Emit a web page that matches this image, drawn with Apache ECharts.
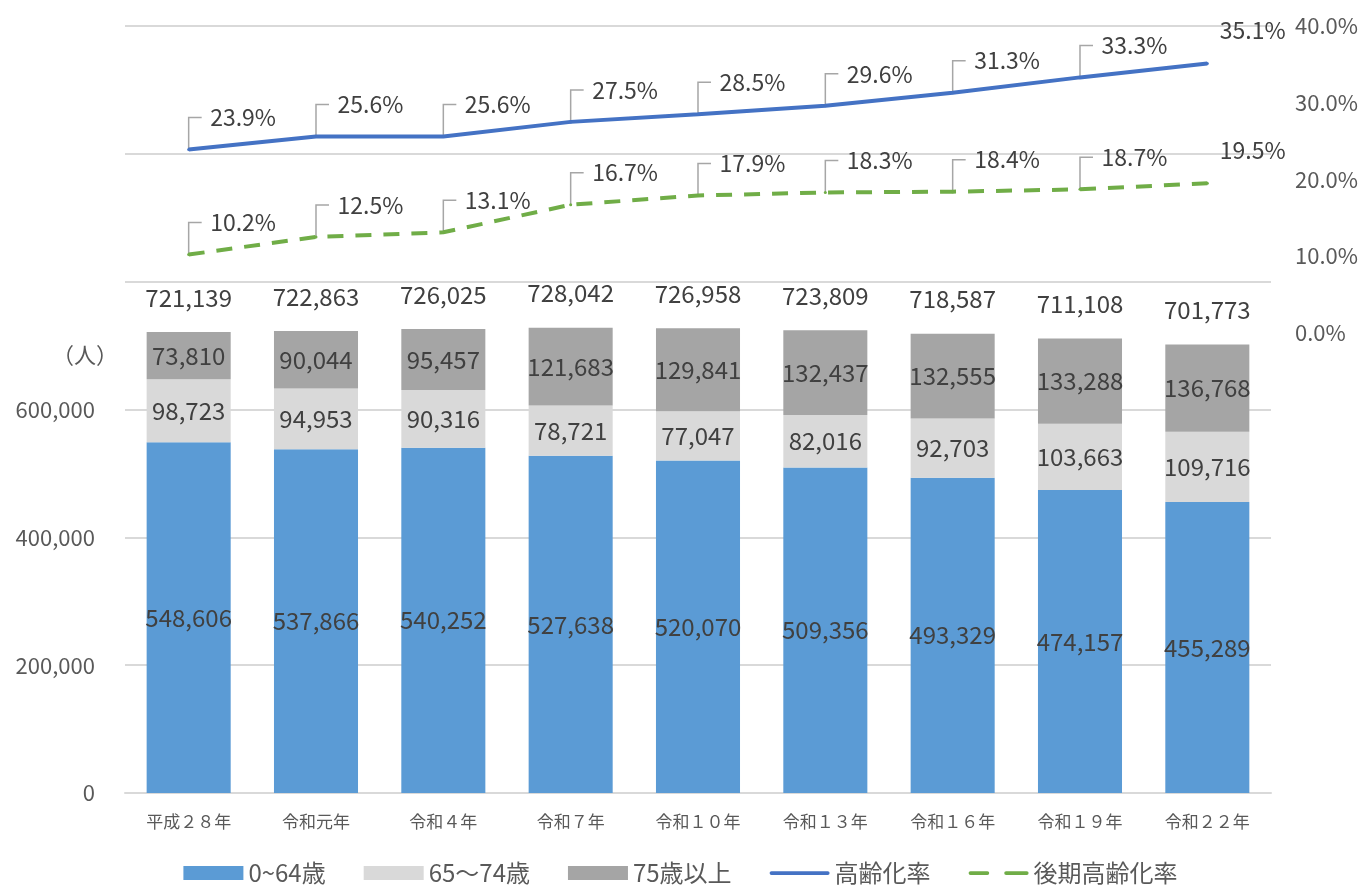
<!DOCTYPE html>
<html><head><meta charset="utf-8">
<script src="https://cdn.jsdelivr.net/npm/echarts@6/dist/echarts.min.js"></script>
<style>html,body{margin:0;padding:0;background:#fff}#c{width:1361px;height:885px}</style>
</head><body><div id="c"></div>
<script>
const categories = ['平成２８年','令和元年','令和４年','令和７年','令和１０年','令和１３年','令和１６年','令和１９年','令和２２年'];
const age0to64 = [548606,537866,540252,527638,520070,509356,493329,474157,455289];
const age65to74 = [98723,94953,90316,78721,77047,82016,92703,103663,109716];
const age75plus = [73810,90044,95457,121683,129841,132437,132555,133288,136768];
const agingRate = [23.9,25.6,25.6,27.5,28.5,29.6,31.3,33.3,35.1];
const lateAgingRate = [10.2,12.5,13.1,16.7,17.9,18.3,18.4,18.7,19.5];
const leftTicks = [0,200000,400000,600000];
const totals = categories.map((_, i) => age0to64[i] + age65to74[i] + age75plus[i]);

const FONT = '"Noto Sans CJK JP", "Noto Sans", sans-serif';
const fmtNum = v => v.toLocaleString('en-US');
const barLabel = {show:true, position:'inside', fontFamily:FONT, fontSize:24, color:'#404040', formatter:p=>fmtNum(p.value)};
const pctLabel = {show:true, position:'right', distance:2, fontFamily:FONT, fontSize:23, color:'#404040', formatter:p=>p.value.toFixed(1)+'%'};
const B = 'M0,0L0.01,0L0,0.01Z M0,14L0.01,14L0,13.99Z ';
const solidIcon = 'path://' + B + 'M2,5H62A2,2 0 0 1 62,9H2A2,2 0 0 1 2,5Z';
const dashIcon = 'path://' + B + 'M2,5H20A2,2 0 0 1 20,9H2A2,2 0 0 1 2,5Z M40,5H62A2,2 0 0 1 62,9H40A2,2 0 0 1 40,5Z';
const lastIdx = categories.length - 1;
const pctLayout = p => (p.dataIndex === lastIdx ? {dx:9, dy:-33} : {dx:18, dy:-32});

function leaderSeries(values){
  return {
    type:'custom', yAxisIndex:1, silent:true, z:1,
    data: values.map((v,i)=>[i,v]),
    renderItem:(params, api)=>{
      if (params.dataIndex === lastIdx) return null;
      const p = api.coord([api.value(0), api.value(1)]);
      return {type:'polyline', shape:{points:[[p[0],p[1]],[p[0],p[1]-32],[p[0]+13,p[1]-32]]},
              style:{stroke:'#a6a6a6', lineWidth:1.5, fill:null}};
    }
  };
}

const chart = echarts.init(document.getElementById('c'), null, {renderer:'canvas'});
chart.setOption({
  animation:false,
  textStyle:{fontFamily:FONT},
  grid:{left:125, right:90, top:26, bottom:92, containLabel:false},
  legend:{
    top:861, left:'center', padding:0, itemWidth:60, itemHeight:14, itemGap:38,
    textStyle:{fontFamily:FONT, fontSize:24, lineHeight:24, color:'#595959'},
    data:[
      {name:'0~64歳', icon:'rect'},
      {name:'65～74歳', icon:'rect'},
      {name:'75歳以上', icon:'rect'},
      {name:'高齢化率', icon:solidIcon},
      {name:'後期高齢化率', icon:dashIcon}
    ]
  },
  graphic:[{type:'text', left:52, top:344, style:{text:'（人）', font:'22px '+FONT, fill:'#595959'}}],
  xAxis:{
    type:'category', data:categories,
    axisLine:{lineStyle:{color:'#d9d9d9', width:2}}, axisTick:{show:false},
    axisLabel:{fontFamily:FONT, fontSize:17, color:'#595959', margin:20}
  },
  yAxis:[
    {type:'value', min:0, max:1200000, interval:200000,
     axisLine:{show:false}, axisTick:{show:false},
     splitLine:{lineStyle:{color:'#d9d9d9', width:2}},
     axisLabel:{fontFamily:FONT, fontSize:22, color:'#595959', margin:30,
       formatter:v=>leftTicks.includes(v)?fmtNum(v):''}},
    {type:'value', min:-60, max:40, interval:10, position:'right',
     axisLine:{show:false}, axisTick:{show:false}, splitLine:{show:false},
     axisLabel:{fontFamily:FONT, fontSize:22, color:'#595959', margin:24,
       formatter:v=>v<0?'':v.toFixed(1)+'%'}}
  ],
  series:[
    {name:'0~64歳', type:'bar', stack:'pop', data:age0to64, barWidth:'66%', itemStyle:{color:'#5B9BD5'}, label:barLabel},
    {name:'65～74歳', type:'bar', stack:'pop', data:age65to74, itemStyle:{color:'#D9D9D9'}, label:barLabel},
    {name:'75歳以上', type:'bar', stack:'pop', data:age75plus, itemStyle:{color:'#A5A5A5'}, label:barLabel},
    {name:'合計', type:'line', data:totals, symbol:'circle', symbolSize:1, lineStyle:{opacity:0}, silent:true,
     itemStyle:{color:'rgba(0,0,0,0)'},
     label:{show:true, position:'top', distance:22, fontFamily:FONT, fontSize:24, color:'#404040', formatter:p=>fmtNum(p.value)}},
    leaderSeries(agingRate),
    leaderSeries(lateAgingRate),
    {name:'高齢化率', type:'line', yAxisIndex:1, data:agingRate, symbol:'circle', symbolSize:3, z:3,
     lineStyle:{color:'#4472C4', width:4}, itemStyle:{color:'#4472C4'},
     label:pctLabel, labelLayout:pctLayout},
    {name:'後期高齢化率', type:'line', yAxisIndex:1, data:lateAgingRate, symbol:'circle', symbolSize:3, z:3,
     lineStyle:{color:'#70AD47', width:4, type:[16,12]}, itemStyle:{color:'#70AD47'},
     label:pctLabel, labelLayout:pctLayout}
  ]
});
</script></body></html>
